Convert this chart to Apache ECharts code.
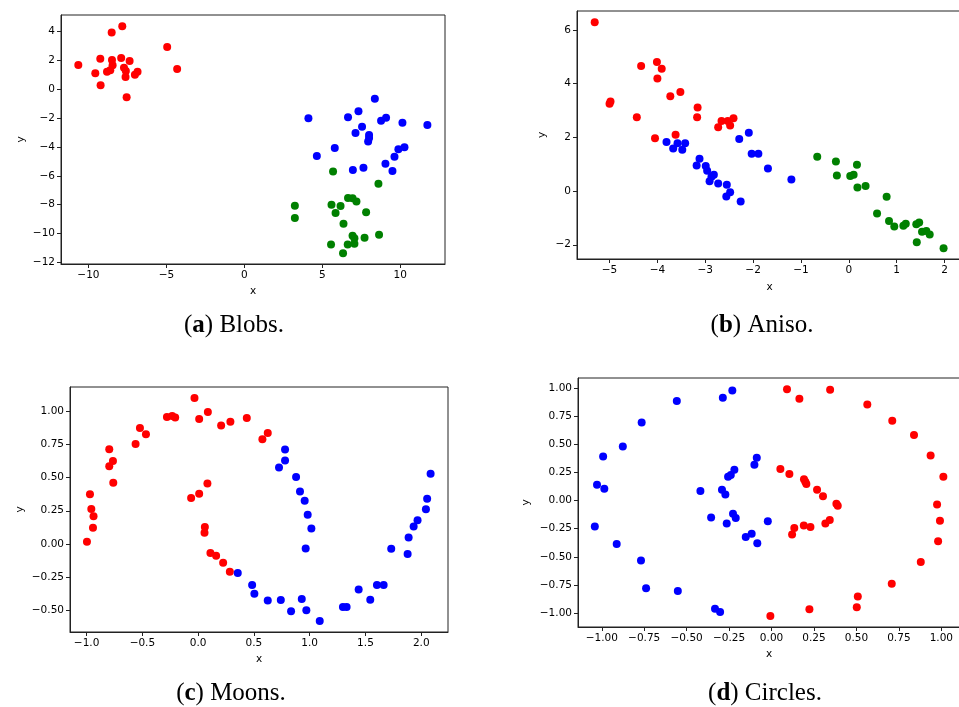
<!DOCTYPE html>
<html>
<head>
<meta charset="utf-8">
<title>Clustering datasets</title>
<script src="https://cdn.jsdelivr.net/npm/echarts@6/dist/echarts.min.js"></script>
<style>
  html, body { margin: 0; padding: 0; background: #fff; }
  #chart { width: 959px; height: 707px; }
</style>
</head>
<body>
<div id="chart"></div>
<script>
// (a) Blobs
var blobsRed = [[-10.65,1.69],[-7.83,4.37],[-8.51,3.93],[-9.24,2.12],[-8.49,2.03],[-7.90,2.17],[-7.36,1.96],
  [-8.45,1.66],[-9.56,1.11],[-8.81,1.22],[-8.60,1.32],[-7.72,1.50],[-7.60,1.27],[-7.62,0.85],[-7.02,1.01],
  [-6.85,1.22],[-9.22,0.28],[-7.55,-0.55],[-4.95,2.93],[-4.31,1.41]];
var blobsBlue = [[8.37,-0.65],[7.32,-1.53],[4.11,-2.01],[6.65,-1.94],[8.77,-2.18],[9.09,-1.97],[10.14,-2.32],
  [11.74,-2.48],[7.55,-2.59],[7.13,-3.03],[8.0,-3.17],[8.0,-3.38],[7.94,-3.61],[5.80,-4.07],[9.88,-4.16],
  [10.27,-4.02],[4.65,-4.63],[9.63,-4.67],[9.05,-5.16],[7.64,-5.44],[6.96,-5.60],[9.50,-5.67]];
var blobsGreen = [[5.69,-5.69],[8.60,-6.55],[6.65,-7.54],[6.94,-7.56],[7.19,-7.77],[3.24,-8.07],[5.59,-8.00],
  [6.17,-8.09],[5.85,-8.58],[7.81,-8.53],[3.24,-8.93],[6.36,-9.32],[6.94,-10.15],[7.06,-10.33],[7.71,-10.29],
  [8.64,-10.08],[5.56,-10.75],[6.63,-10.75],[7.06,-10.71],[6.33,-11.37]];

// (b) Aniso
var anisoRed = [[-5.31,6.28],[-4.34,4.65],[-4.01,4.80],[-3.91,4.55],[-4.00,4.19],[-3.73,3.53],[-3.52,3.69],
  [-5.00,3.25],[-4.98,3.33],[-4.43,2.75],[-3.16,3.11],[-3.17,2.75],[-4.05,1.96],[-3.62,2.09],[-2.73,2.37],
  [-2.66,2.61],[-2.53,2.61],[-2.48,2.44],[-2.41,2.71]];
var anisoBlue = [[-3.81,1.82],[-3.67,1.58],[-3.58,1.78],[-3.48,1.54],[-3.42,1.78],[-3.18,0.95],[-3.12,1.20],
  [-2.99,0.93],[-2.96,0.75],[-2.91,0.36],[-2.87,0.53],[-2.82,0.61],[-2.73,0.28],[-2.55,0.23],[-2.56,-0.20],
  [-2.48,-0.05],[-2.26,-0.39],[-2.29,1.94],[-2.09,2.17],[-2.03,1.39],[-1.89,1.39],[-1.69,0.84],[-1.20,0.43]];
var anisoGreen = [[-0.66,1.28],[-0.27,1.10],[-0.25,0.58],[0.17,0.98],[0.03,0.56],[0.10,0.61],[0.18,0.13],
  [0.35,0.19],[0.79,-0.21],[0.59,-0.84],[0.84,-1.12],[0.95,-1.32],[1.14,-1.29],[1.19,-1.22],[1.41,-1.24],
  [1.47,-1.17],[1.53,-1.52],[1.62,-1.49],[1.69,-1.62],[1.42,-1.91],[1.98,-2.13]];

// (c) Moons
var moonsRed = [[-0.997,0.015],[-0.943,0.121],[-0.938,0.209],[-0.958,0.264],[-0.970,0.375],[-0.761,0.461],
  [-0.797,0.587],[-0.764,0.627],[-0.797,0.715],[-0.561,0.755],[-0.522,0.876],[-0.468,0.828],[-0.280,0.959],
  [-0.233,0.967],[-0.206,0.955],[-0.033,1.103],[0.009,0.944],[0.087,0.997],[0.206,0.894],[0.289,0.924],
  [0.436,0.952],[0.624,0.838],[0.576,0.791],[-0.063,0.347],[0.009,0.378],[0.083,0.456],[0.060,0.128],
  [0.057,0.083],[0.110,-0.070],[0.161,-0.091],[0.224,-0.143],[0.284,-0.211]];
var moonsBlue = [[0.355,-0.221],[0.484,-0.312],[0.504,-0.378],[0.624,-0.428],[0.741,-0.425],[0.833,-0.511],
  [0.929,-0.418],[0.970,-0.503],[1.090,-0.584],[1.298,-0.478],[1.331,-0.478],[1.439,-0.345],[1.543,-0.423],
  [1.603,-0.312],[1.663,-0.312],[1.731,-0.038],[1.878,-0.078],[1.887,0.048],[1.932,0.131],[1.967,0.179],
  [2.042,0.262],[2.053,0.340],[2.084,0.529],[0.779,0.713],[0.779,0.630],[0.725,0.577],[0.878,0.506],
  [0.913,0.396],[0.955,0.325],[0.982,0.219],[1.015,0.116],[0.964,-0.035]];

// (d) Circles
var circlesBlue = [[-0.558,0.884],[-0.287,0.913],[-0.231,0.978],[-0.765,0.693],[-0.876,0.480],[-0.992,0.391],
  [-1.028,0.140],[-0.985,0.104],[-1.041,-0.231],[-0.912,-0.385],[-0.769,-0.533],[-0.739,-0.779],[-0.552,-0.803],
  [-0.333,-0.960],[-0.303,-0.989],[-0.419,0.084],[-0.292,0.095],[-0.272,0.053],[-0.256,0.211],[-0.240,0.226],
  [-0.219,0.273],[-0.356,-0.151],[-0.227,-0.118],[-0.211,-0.156],[-0.264,-0.204],[-0.152,-0.323],
  [-0.117,-0.296],[-0.084,-0.379],[-0.022,-0.183],[-0.101,0.317],[-0.087,0.380]];
var circlesRed = [[0.091,0.987],[0.164,0.904],[0.345,0.984],[0.564,0.853],[0.711,0.708],[0.839,0.581],
  [0.937,0.400],[1.012,0.211],[0.975,-0.036],[0.992,-0.180],[0.981,-0.361],[0.879,-0.545],[0.708,-0.740],
  [0.508,-0.853],[0.502,-0.948],[0.223,-0.966],[-0.007,-1.025],[0.052,0.279],[0.105,0.235],[0.191,0.190],
  [0.199,0.166],[0.205,0.146],[0.268,0.095],[0.303,0.039],[0.382,-0.029],[0.390,-0.047],[0.343,-0.174],
  [0.317,-0.204],[0.229,-0.234],[0.190,-0.222],[0.134,-0.243],[0.121,-0.302]];

// tick labels
var blobsXTicks = [-10, -5, 0, 5, 10];
var blobsYTicks = [-12, -10, -8, -6, -4, -2, 0, 2, 4];
var anisoXTicks = [-5, -4, -3, -2, -1, 0, 1, 2];
var anisoYTicks = [-2, 0, 2, 4, 6];
var moonsXTicks = [-1, -0.5, 0, 0.5, 1, 1.5, 2];
var moonsYTicks = [-0.5, -0.25, 0, 0.25, 0.5, 0.75, 1];
var circlesXTicks = [-1, -0.75, -0.5, -0.25, 0, 0.25, 0.5, 0.75, 1];
var circlesYTicks = [-1, -0.75, -0.5, -0.25, 0, 0.25, 0.5, 0.75, 1];

var captions = ['a', 'b', 'c', 'd'];
var captionNames = ['Blobs.', 'Aniso.', 'Moons.', 'Circles.'];

var RED = '#ff0000', BLUE = '#0000ff', GREEN = '#008000';
var tickFont = 'DejaVu Sans';

function tickLabel(dec) {
  return function (v) { return Number(v).toFixed(dec).replace('-', '\u2212'); };
}

function makeAxis(type, idx, lim, ticks, dec, gap) {
  return {
    type: 'value', gridIndex: idx, min: lim[0], max: lim[1],
    name: type, nameLocation: 'middle', nameGap: gap,
    nameTextStyle: { fontFamily: tickFont, fontSize: 10.5, color: '#000' },
    axisLine: { show: true, onZero: false, lineStyle: { color: '#222', width: 1 } },
    axisTick: { show: true, inside: false, length: 4, customValues: ticks, lineStyle: { color: '#222' } },
    axisLabel: { show: true, margin: 6, customValues: ticks, formatter: tickLabel(dec),
      fontFamily: tickFont, fontSize: 10.5, color: '#000' },
    splitLine: { show: false }
  };
}

function pts(data, color, idx) {
  return { type: 'scatter', data: data, xAxisIndex: idx, yAxisIndex: idx, symbolSize: 8,
    itemStyle: { color: color, opacity: 1 }, emphasis: { disabled: true }, silent: true };
}

var gridBox = { show: true, borderColor: '#222', borderWidth: 1, backgroundColor: 'transparent',
  containLabel: false, outerBoundsMode: 'none' };

var option = {
  animation: false,
  backgroundColor: '#fff',
  grid: [
    Object.assign({ left: 61, top: 15, width: 384, height: 249 }, gridBox),
    Object.assign({ left: 577, top: 11, width: 385, height: 248 }, gridBox),
    Object.assign({ left: 70, top: 387, width: 378, height: 245 }, gridBox),
    Object.assign({ left: 578, top: 378, width: 382, height: 249 }, gridBox)
  ],
  xAxis: [
    makeAxis('x', 0, [-11.76, 12.87], blobsXTicks, 0, 22),
    makeAxis('x', 1, [-5.68, 2.365], anisoXTicks, 0, 23),
    makeAxis('x', 2, [-1.149, 2.24], moonsXTicks, 1, 22),
    makeAxis('x', 3, [-1.14, 1.11], circlesXTicks, 2, 22)
  ],
  yAxis: [
    makeAxis('y', 0, [-12.11, 5.15], blobsYTicks, 0, 34),
    makeAxis('y', 1, [-2.53, 6.70], anisoYTicks, 0, 29),
    makeAxis('y', 2, [-0.667, 1.186], moonsYTicks, 2, 44),
    makeAxis('y', 3, [-1.123, 1.088], circlesYTicks, 2, 46)
  ],
  title: captions.map(function (c, i) {
    var cx = [234, 762, 231, 765][i];
    var ty = [313, 313, 681, 681][i];
    return {
      text: '(' + '{b|' + c + '}) ' + captionNames[i],
      left: cx, top: ty, textAlign: 'center', padding: 0,
      textStyle: { fontFamily: 'Liberation Serif', fontSize: 25, fontWeight: 'normal', color: '#000',
        rich: { b: { fontFamily: 'Liberation Serif', fontSize: 25, fontWeight: 'bold', color: '#000' } } }
    };
  }),
  series: [
    pts(blobsRed, RED, 0), pts(blobsBlue, BLUE, 0), pts(blobsGreen, GREEN, 0),
    pts(anisoRed, RED, 1), pts(anisoBlue, BLUE, 1), pts(anisoGreen, GREEN, 1),
    pts(moonsRed, RED, 2), pts(moonsBlue, BLUE, 2),
    pts(circlesBlue, BLUE, 3), pts(circlesRed, RED, 3)
  ]
};

var myChart = echarts.init(document.getElementById('chart'));
myChart.setOption(option);
</script>
</body>
</html>
